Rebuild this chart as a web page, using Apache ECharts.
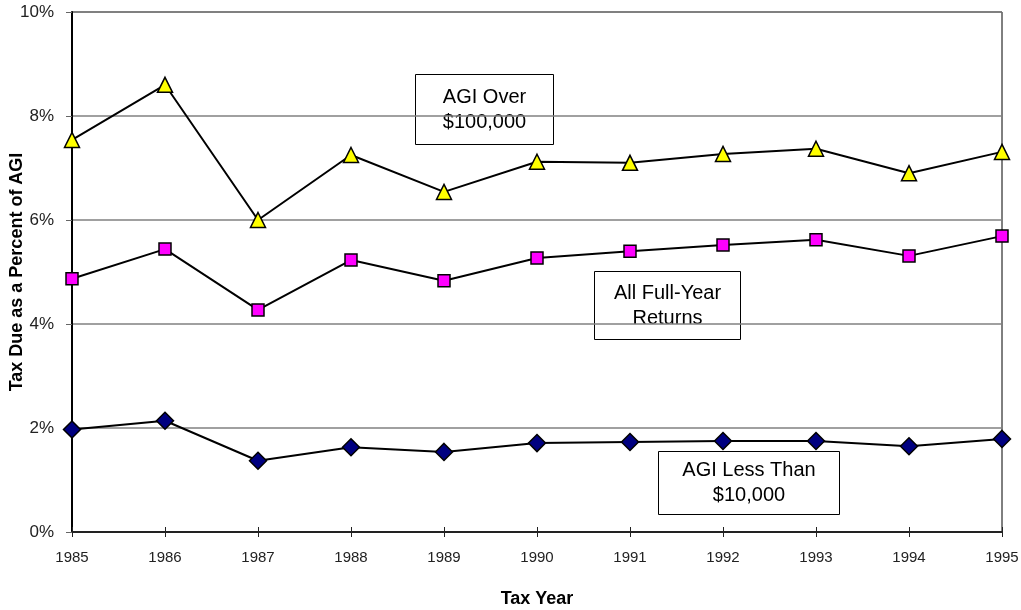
<!DOCTYPE html>
<html><head><meta charset="utf-8">
<script src="https://cdn.jsdelivr.net/npm/echarts@6/dist/echarts.min.js"></script>
<style>html,body{margin:0;padding:0;background:#fff}#c{width:1021px;height:610px}</style>
</head><body><div id="c"></div>
<script>
const years = ['1985','1986','1987','1988','1989','1990','1991','1992','1993','1994','1995'];
const agiOver100k = [7.54, 8.6, 6.0, 7.25, 6.54, 7.12, 7.1, 7.27, 7.37, 6.9, 7.31];
const allReturns = [4.87, 5.44, 4.27, 5.23, 4.83, 5.27, 5.4, 5.52, 5.62, 5.31, 5.69];
const agiUnder10k = [1.97, 2.14, 1.37, 1.63, 1.54, 1.71, 1.73, 1.75, 1.75, 1.65, 1.79];
const yTicks = [0, 2, 4, 6, 8, 10];

const font = '"Liberation Sans", Arial, sans-serif';
const chart = echarts.init(document.getElementById('c'));
function box(left, top, w, h, lines) {
  return {
    type: 'group', left: left, top: top, z: 50,
    children: [
      {type: 'rect', shape: {x: 0, y: 0, width: w, height: h}, style: {fill: '#fff', stroke: '#000', lineWidth: 1}},
      {type: 'text', x: w / 2, y: h / 2, style: {text: lines, font: '20px ' + font, fill: '#000', align: 'center', verticalAlign: 'middle', lineHeight: 25}}
    ]
  };
}
const lineSeries = (name, data, symbol, size, color) => ({
  name, type: 'line', data, symbol, symbolSize: size, showSymbol: true,
  lineStyle: {color: '#000', width: 2},
  itemStyle: {color: color, borderColor: '#000', borderWidth: 1.5},
  animation: false, z: 5
});
chart.setOption({
  animation: false,
  backgroundColor: '#fff',
  grid: {left: 72, right: 19, top: 12, bottom: 78, show: true, borderColor: '#000', borderWidth: 1,
         containLabel: false, outerBoundsMode: 'none'},
  xAxis: [{
    type: 'category', data: years, boundaryGap: false,
    name: 'Tax Year', nameLocation: 'middle', nameGap: 58,
    nameTextStyle: {fontFamily: font, fontSize: 18, fontWeight: 'bold', color: '#000'},
    axisLine: {lineStyle: {color: '#222', width: 2}},
    axisTick: {show: true, length: 5, lineStyle: {color: '#222', width: 1}},
    axisLabel: {fontFamily: font, fontSize: 15, color: '#222', margin: 18}
  }, {
    type: 'category', data: years, boundaryGap: false, position: 'bottom',
    axisLine: {show: false},
    axisTick: {show: true, inside: true, length: 5, lineStyle: {color: '#222', width: 1}},
    axisLabel: {show: false}
  }],
  yAxis: {
    type: 'value', min: yTicks[0], max: yTicks[yTicks.length - 1], interval: 2,
    name: 'Tax Due as a Percent of AGI', nameLocation: 'middle', nameGap: 46, nameRotate: 90,
    nameMoveOverlap: false,
    nameTextStyle: {fontFamily: font, fontSize: 18, fontWeight: 'bold', color: '#000'},
    axisLine: {show: true, lineStyle: {color: '#000', width: 2}},
    axisTick: {show: true, length: 6, lineStyle: {color: '#666'}},
    axisLabel: {fontFamily: font, fontSize: 17, color: '#222', margin: 18, formatter: v => v + '%'},
    splitLine: {show: true, lineStyle: {color: '#808080', width: 1.5}}
  },
  series: [
    lineSeries('AGI Over $100,000', agiOver100k, 'triangle', 15, '#FFFF00'),
    lineSeries('All Full-Year Returns', allReturns, 'rect', 12, '#FF00FF'),
    lineSeries('AGI Less Than $10,000', agiUnder10k, 'diamond', 17, '#000080')
  ],
  graphic: [
    box(415, 74, 138, 70, 'AGI Over\n$100,000'),
    box(594, 271, 146, 68, 'All Full-Year\nReturns'),
    box(658, 451, 181, 63, 'AGI Less Than\n$10,000')
  ]
});
</script></body></html>
